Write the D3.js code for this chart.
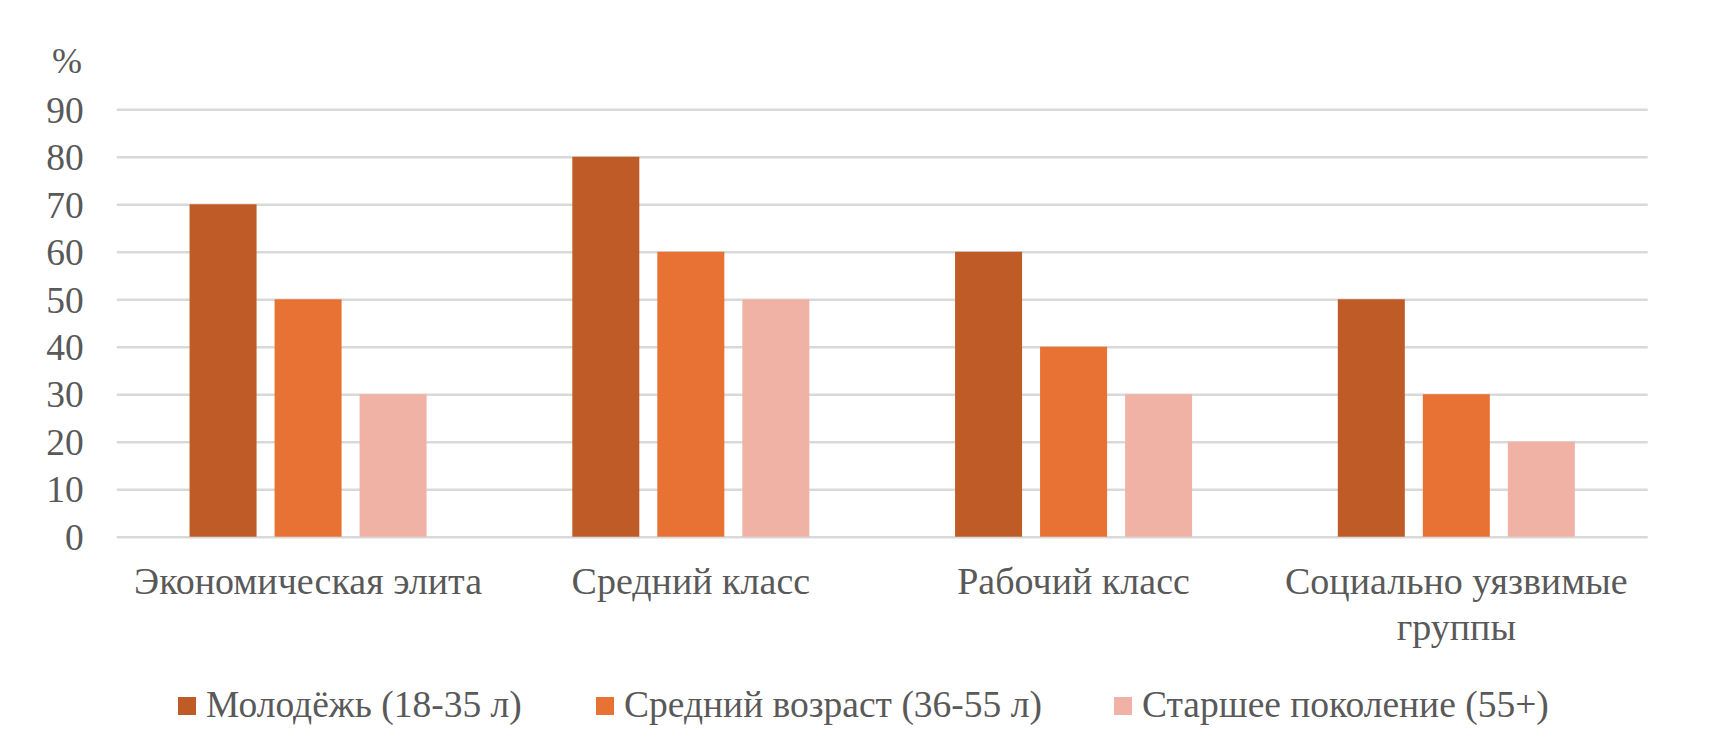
<!DOCTYPE html>
<html>
<head>
<meta charset="utf-8">
<script src="https://cdn.jsdelivr.net/npm/d3@7"></script>
<style>
  html, body { margin: 0; padding: 0; background: #fff; }
</style>
</head>
<body>
<svg id="chart" width="1717" height="750"></svg>
<script>
const categories = ["Экономическая элита", "Средний класс", "Рабочий класс", "Социально уязвимые группы"];
const seriesNames = ["Молодёжь (18-35 л)", "Средний возраст (36-55 л)", "Старшее поколение (55+)"];
const youth = [70, 80, 60, 50];
const middleAge = [50, 60, 40, 30];
const older = [30, 50, 30, 20];
const yTicks = [0, 10, 20, 30, 40, 50, 60, 70, 80, 90];
const colors = ["#BF5B27", "#E87233", "#F0B2A4"];

const series = [youth, middleAge, older];
const FONT = '"Liberation Serif", "DejaVu Serif", "Times New Roman", serif';
const TEXT = "#595959";

const svg = d3.select("#chart");
const margin = { left: 116.7, right: 1717 - 1647.7, top: 109.3, bottom: 750 - 536.7 };
const W = 1717, H = 750;

const x0 = d3.scaleBand().domain(categories).range([margin.left, W - margin.right]).paddingInner(0).paddingOuter(0);
const x1 = d3.scaleBand().domain(seriesNames).range([0, x0.bandwidth()]).paddingInner(18 / 85).paddingOuter(0.857);
const y = d3.scaleLinear().domain([0, 90]).range([H - margin.bottom, margin.top]);

// gridlines + y ticks
const yAxis = d3.axisLeft(y).tickValues(yTicks).tickSize(-(W - margin.left - margin.right)).tickPadding(33).tickFormat(d3.format("d"));
const gy = svg.append("g").attr("transform", `translate(${margin.left},0)`).call(yAxis)
  .attr("font-family", FONT).attr("font-size", 37.5);
gy.select(".domain").remove();
gy.selectAll(".tick line").attr("stroke", "#D9D9D9").attr("stroke-width", 2.5);
gy.selectAll(".tick text").attr("fill", TEXT).attr("dy", "0.34em");

// "%" label
svg.append("text").attr("x", 67).attr("y", 73).attr("text-anchor", "middle")
  .attr("font-family", FONT).attr("font-size", 36).attr("fill", TEXT).text("%");

// bars
const groups = svg.append("g").selectAll("g").data(categories).join("g")
  .attr("transform", d => `translate(${x0(d)},0)`);
groups.selectAll("rect").data((c, ci) => seriesNames.map((s, si) => ({ s, si, v: series[si][ci] })))
  .join("rect")
  .attr("x", d => x1(d.s))
  .attr("width", x1.bandwidth())
  .attr("y", d => y(d.v))
  .attr("height", d => y(0) - y(d.v))
  .attr("fill", d => colors[d.si]);

// category labels (wrapped)
const catLines = { "Социально уязвимые группы": ["Социально уязвимые", "группы"] };
categories.forEach(c => {
  const lines = catLines[c] || [c];
  const cx = x0(c) + x0.bandwidth() / 2;
  const t = svg.append("text").attr("text-anchor", "middle")
    .attr("font-family", FONT).attr("font-size", 38).attr("fill", TEXT)
    .attr("x", cx).attr("y", 594);
  lines.forEach((l, i) => {
    t.append("tspan").attr("x", cx).attr("dy", i === 0 ? 0 : 46).text(l);
  });
});

// legend
const legendX = [178, 596, 1114];
const lg = svg.append("g").selectAll("g").data(seriesNames).join("g")
  .attr("transform", (d, i) => `translate(${legendX[i]},0)`);
lg.append("rect").attr("x", 0).attr("y", 697).attr("width", 18).attr("height", 18).attr("fill", (d, i) => colors[i]);
lg.append("text").attr("x", 28).attr("y", 717)
  .attr("font-family", FONT).attr("font-size", 37.5).attr("fill", TEXT).text(d => d);
</script>
</body>
</html>
